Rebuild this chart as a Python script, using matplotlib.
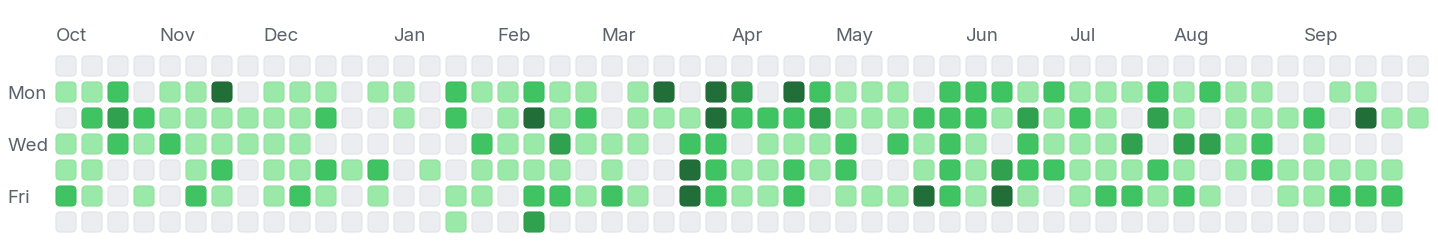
#!/usr/bin/env python3
"""
Contribution calendar: 53 weeks x 7 days, coloured by activity level.
"""
import matplotlib
matplotlib.use("Agg")
import matplotlib.pyplot as plt
from matplotlib.patches import FancyBboxPatch

# activity level per week (column), Sun..Sat; 0 = none, 4 = most
weeks = [
    [0, 1, 0, 1, 1, 2, 0],
    [0, 1, 2, 1, 1, 1, 0],
    [0, 2, 3, 2, 0, 0, 0],
    [0, 0, 2, 1, 0, 1, 0],
    [0, 1, 1, 2, 0, 0, 0],
    [0, 1, 1, 1, 1, 2, 0],
    [0, 4, 1, 1, 2, 1, 0],
    [0, 0, 1, 1, 0, 0, 0],
    [0, 1, 1, 1, 1, 1, 0],
    [0, 1, 1, 1, 1, 2, 0],
    [0, 1, 2, 0, 2, 1, 0],
    [0, 0, 0, 0, 1, 0, 0],
    [0, 1, 0, 0, 2, 1, 0],
    [0, 1, 1, 0, 0, 0, 0],
    [0, 0, 0, 0, 1, 0, 0],
    [0, 2, 2, 0, 0, 1, 1],
    [0, 1, 0, 2, 1, 1, 0],
    [0, 1, 1, 1, 1, 0, 0],
    [0, 2, 4, 1, 1, 2, 3],
    [0, 1, 1, 3, 1, 2, 0],
    [0, 1, 2, 1, 0, 1, 0],
    [0, 0, 0, 1, 1, 2, 0],
    [0, 1, 1, 1, 0, 1, 0],
    [0, 4, 1, 0, 0, 0, 0],
    [0, 0, 1, 2, 4, 4, 0],
    [0, 4, 4, 2, 2, 2, 0],
    [0, 3, 2, 0, 1, 1, 0],
    [0, 0, 2, 1, 1, 1, 0],
    [0, 4, 2, 1, 2, 2, 0],
    [0, 2, 3, 1, 1, 0, 0],
    [0, 1, 1, 2, 2, 1, 0],
    [0, 1, 1, 0, 0, 1, 0],
    [0, 1, 1, 2, 0, 1, 0],
    [0, 0, 2, 1, 1, 4, 0],
    [0, 2, 2, 2, 2, 2, 0],
    [0, 2, 2, 1, 1, 1, 0],
    [0, 2, 1, 0, 3, 4, 0],
    [0, 1, 3, 2, 2, 1, 0],
    [0, 2, 1, 1, 2, 0, 0],
    [0, 1, 2, 1, 1, 1, 0],
    [0, 1, 1, 1, 1, 2, 0],
    [0, 1, 0, 3, 1, 2, 0],
    [0, 2, 3, 0, 2, 1, 0],
    [0, 1, 1, 3, 1, 2, 0],
    [0, 2, 0, 3, 0, 1, 0],
    [0, 1, 1, 1, 1, 0, 0],
    [0, 1, 1, 2, 2, 0, 0],
    [0, 0, 1, 0, 1, 1, 0],
    [0, 0, 2, 1, 1, 1, 0],
    [0, 1, 0, 0, 1, 2, 0],
    [0, 1, 4, 0, 1, 2, 0],
    [0, 0, 1, 0, 1, 2, 0],
    [0, 0, 1],
]

months = ["Oct", "Nov", "Dec", "Jan", "Feb", "Mar", "Apr", "May", "Jun", "Jul", "Aug", "Sep"]
month_weeks = [0, 4, 8, 13, 17, 21, 26, 30, 35, 39, 43, 48]

day_labels = ["Mon", "Wed", "Fri"]
day_rows = [1, 3, 5]

level_colors = ["#ebedf0", "#9be9a8", "#40c463", "#30a14e", "#216e39"]
level_edges = ["#e1e4e8", "#92e0a0", "#3bbb5d", "#2d9a4a", "#1f6836"]

PX = 26.0        # pixels per week/day step
CELL = 20.0 / PX
TEXT = "#5a616b"


def main():
    fig = plt.figure(figsize=(14.38, 2.48), dpi=100)
    ax = fig.add_axes([0, 0, 1, 1])
    ax.set_xlim(-66 / PX, (1438 - 66) / PX)
    ax.set_ylim((248 - 66) / PX, -66 / PX)
    ax.axis("off")

    for c, week in enumerate(weeks):
        for r, lvl in enumerate(week):
            box = FancyBboxPatch((c - CELL / 2, r - CELL / 2), CELL, CELL,
                                 boxstyle="round,pad=0,rounding_size=0.17",
                                 facecolor=level_colors[lvl],
                                 edgecolor=level_edges[lvl], linewidth=0.8)
            ax.add_patch(box)
    # end for

    font = ["Inter", "DejaVu Sans"]
    for name, w in zip(months, month_weeks):
        ax.text(w - CELL / 2 - 0.02, -1.14, name, ha="left", va="center",
                fontsize=13.5, color=TEXT, family=font)

    for name, r in zip(day_labels, day_rows):
        ax.text(-2.24, r + 0.08, name, ha="left", va="center",
                fontsize=13.5, color=TEXT, family=font)

    fig.savefig("out.png", dpi=100)
# end def: main

if __name__ == "__main__":
    main()
# end if
